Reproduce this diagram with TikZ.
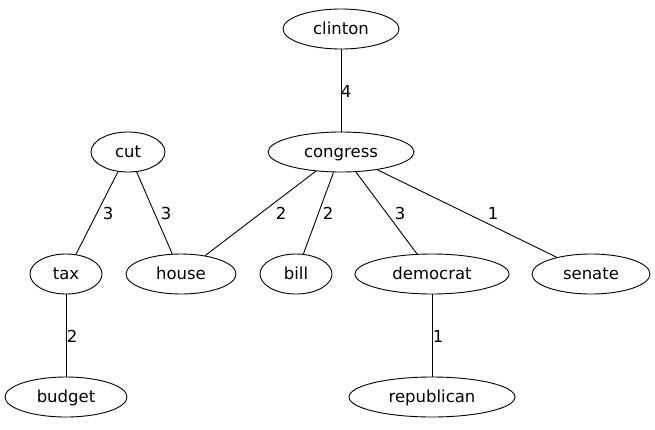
\documentclass[tikz,border=0pt]{standalone}
\usepackage{fontspec}
\setmainfont{DejaVu Sans}
\usetikzlibrary{shapes.geometric}

\begin{document}
\begin{tikzpicture}[x=1pt, y=-1pt, font=\fontsize{16.5}{18}\selectfont, word/.style={draw, ellipse, line width=0.9pt, minimum height=40pt, inner sep=0pt, text height=11.5pt, text depth=0pt}, lbl/.style={inner sep=1pt, anchor=center}]
\useasboundingbox (0,0) rectangle (655,429);
\node[word, minimum width=116pt] (clinton) at (341,29) {clinton};
\node[word, minimum width=146pt] (congress) at (341,152) {congress};
\node[word, minimum width=74pt] (cut) at (128,152) {cut};
\node[word, minimum width=72pt] (tax) at (66,274) {tax};
\node[word, minimum width=110pt] (house) at (181,274) {house};
\node[word, minimum width=72pt] (bill) at (296,274) {bill};
\node[word, minimum width=154pt] (democrat) at (432,274) {democrat};
\node[word, minimum width=118pt] (senate) at (591,274) {senate};
\node[word, minimum width=122pt] (budget) at (66,397) {budget};
\node[word, minimum width=166pt] (republican) at (432,397) {republican};
\draw[line width=0.9pt] (clinton) -- (congress);
\draw[line width=0.9pt] (cut) -- (tax);
\draw[line width=0.9pt] (cut) -- (house);
\draw[line width=0.9pt] (congress) -- (house);
\draw[line width=0.9pt] (congress) -- (bill);
\draw[line width=0.9pt] (congress) -- (democrat);
\draw[line width=0.9pt] (congress) -- (senate);
\draw[line width=0.9pt] (tax) -- (budget);
\draw[line width=0.9pt] (democrat) -- (republican);
\node[lbl] (l1) at (346,91) {4};
\node[lbl] (l2) at (108,213) {3};
\node[lbl] (l3) at (166,213) {3};
\node[lbl] (l4) at (281,213) {2};
\node[lbl] (l5) at (328,213) {2};
\node[lbl] (l6) at (400,213) {3};
\node[lbl] (l7) at (493,213) {1};
\node[lbl] (l8) at (72,336) {2};
\node[lbl] (l9) at (438,336) {1};
\end{tikzpicture}
\end{document}
